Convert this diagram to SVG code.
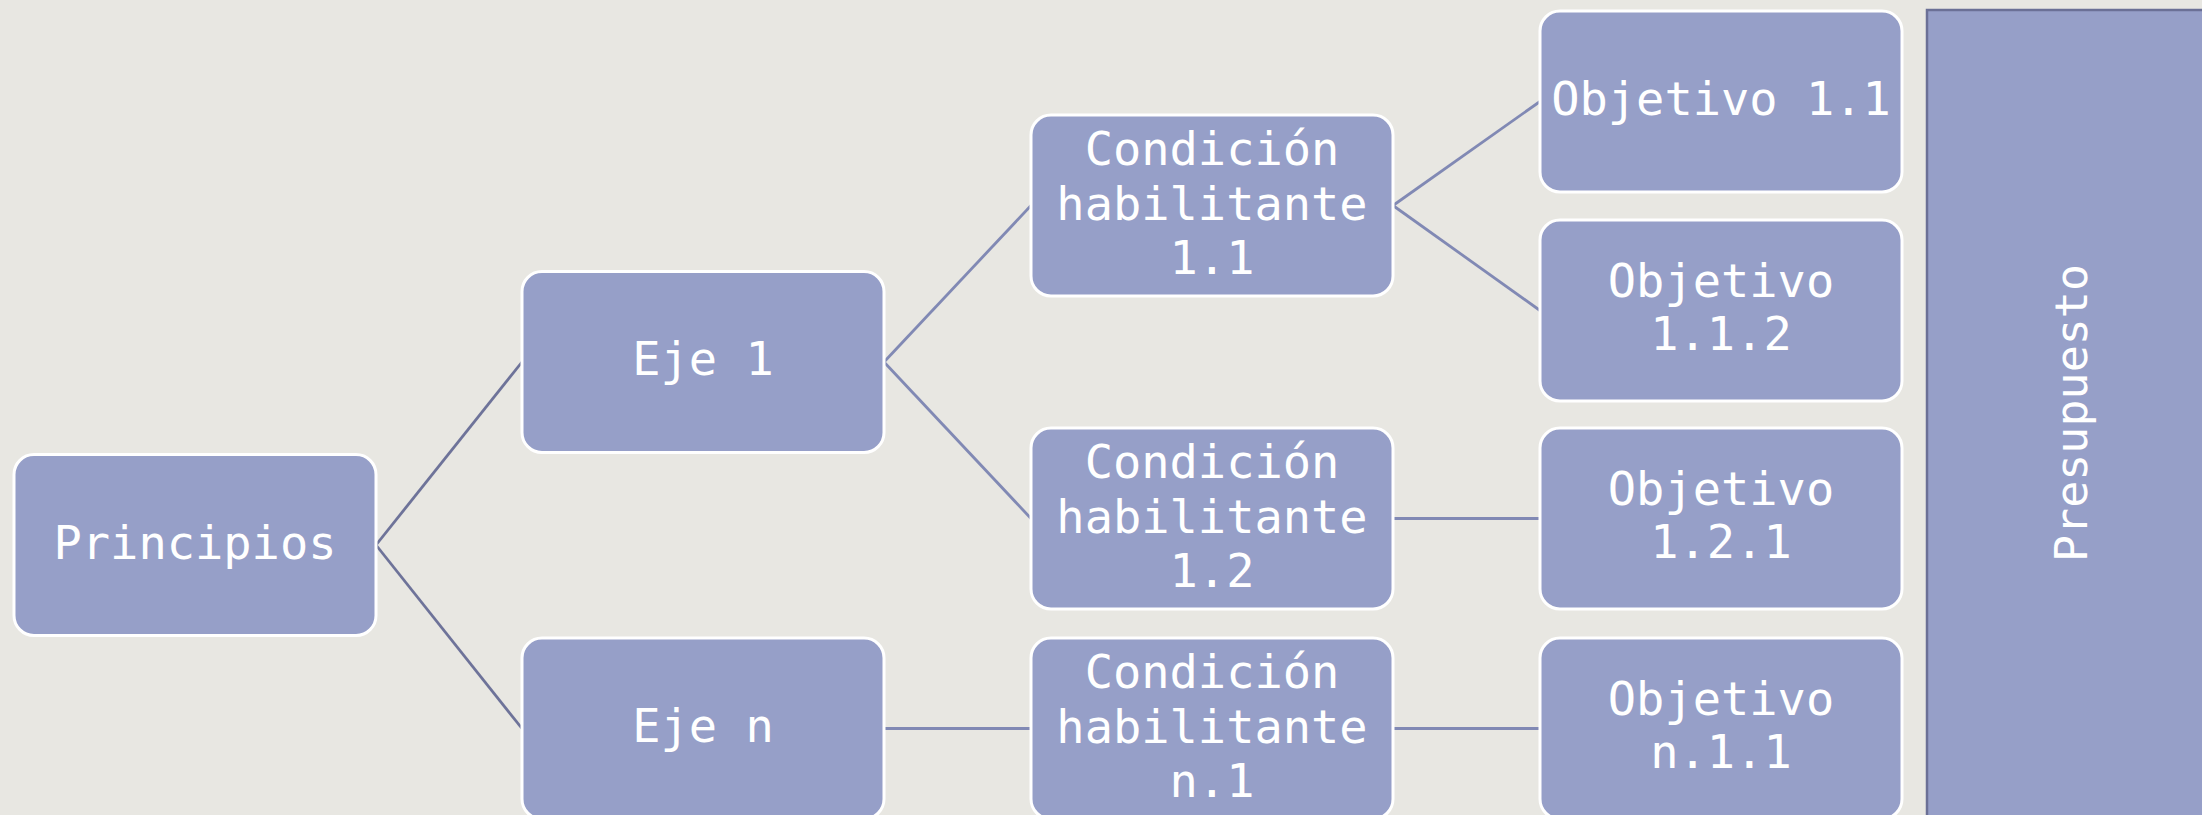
<svg xmlns="http://www.w3.org/2000/svg" width="2202" height="815" viewBox="0 0 2202 815">
<style>
.n{fill:#969fc8;stroke:#ffffff;stroke-width:3}
.t{font-family:"DejaVu Sans Mono","Liberation Mono",monospace;font-size:47px;fill:#ffffff;text-anchor:middle}
.c{stroke:#8189b4;stroke-width:2.8;fill:none}
.c0{stroke:#6e7399}
</style>
<rect width="2202" height="815" fill="#e8e7e2"/>
<g id="connectors">
<line class="c c0" x1="376" y1="545" x2="522" y2="362"/>
<line class="c c0" x1="376" y1="545" x2="522" y2="728.5"/>
<line class="c" x1="884" y1="362" x2="1031" y2="205.5"/>
<line class="c" x1="884" y1="362" x2="1031" y2="518.5"/>
<line class="c" x1="884" y1="728.5" x2="1031" y2="728.5"/>
<line class="c" x1="1393" y1="205.5" x2="1540" y2="101.5"/>
<line class="c" x1="1393" y1="205.5" x2="1540" y2="310.5"/>
<line class="c" x1="1393" y1="518.5" x2="1540" y2="518.5"/>
<line class="c" x1="1393" y1="728.5" x2="1540" y2="728.5"/>
</g>
<g id="principios">
<rect class="n" x="14" y="454.5" width="362" height="181" rx="20"/>
<text class="t" x="195" y="558.5">Principios</text>
</g>
<g id="eje1">
<rect class="n" x="522" y="271.5" width="362" height="181" rx="20"/>
<text class="t" x="703" y="375">Eje 1</text>
</g>
<g id="ejen">
<rect class="n" x="522" y="638" width="362" height="181" rx="20"/>
<text class="t" x="703" y="741.5">Eje n</text>
</g>
<g id="cond11">
<rect class="n" x="1031" y="115" width="362" height="181" rx="20"/>
<text class="t" x="1212" y="165">Condición</text>
<text class="t" x="1212" y="219.5">habilitante</text>
<text class="t" x="1212" y="274">1.1</text>
</g>
<g id="cond12">
<rect class="n" x="1031" y="428" width="362" height="181" rx="20"/>
<text class="t" x="1212" y="478">Condición</text>
<text class="t" x="1212" y="532.5">habilitante</text>
<text class="t" x="1212" y="587">1.2</text>
</g>
<g id="condn1">
<rect class="n" x="1031" y="638" width="362" height="181" rx="20"/>
<text class="t" x="1212" y="688">Condición</text>
<text class="t" x="1212" y="742.5">habilitante</text>
<text class="t" x="1212" y="797">n.1</text>
</g>
<g id="obj11">
<rect class="n" x="1540" y="11" width="362" height="181" rx="20"/>
<text class="t" x="1721" y="114.5">Objetivo 1.1</text>
</g>
<g id="obj112">
<rect class="n" x="1540" y="220" width="362" height="181" rx="20"/>
<text class="t" x="1721" y="297">Objetivo</text>
<text class="t" x="1721" y="350">1.1.2</text>
</g>
<g id="obj121">
<rect class="n" x="1540" y="428" width="362" height="181" rx="20"/>
<text class="t" x="1721" y="505">Objetivo</text>
<text class="t" x="1721" y="558">1.2.1</text>
</g>
<g id="objn11">
<rect class="n" x="1540" y="638" width="362" height="181" rx="20"/>
<text class="t" x="1721" y="715">Objetivo</text>
<text class="t" x="1721" y="768">n.1.1</text>
</g>
<g id="presupuesto">
<rect x="1927" y="10" width="300" height="830" fill="#969fc8" stroke="#6b7096" stroke-width="2.5"/>
<text class="t" style="font-size:45px" transform="translate(2087 413) rotate(-90)" x="0" y="0">Presupuesto</text>
</g>
</svg>
